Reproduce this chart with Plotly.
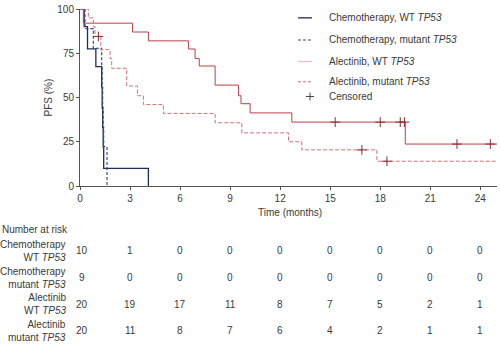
import plotly.graph_objects as go

# ---------------- data ----------------
chemo_wt_t = [0, 0.25, 0.45, 0.95, 1.30, 1.33, 1.36, 1.39, 1.42, 4.1]
chemo_wt_s = [100, 90, 77.5, 67.5, 56, 44, 33, 22, 10, 0]

chemo_mut_t = [0, 0.3, 0.8, 1.30, 1.33, 1.36, 1.39, 1.42, 1.62]
chemo_mut_s = [100, 88.9, 77.8, 66.7, 55.6, 44.4, 33.3, 22.2, 0]

alec_wt_t = [0, 0.2, 3.15, 4.1, 6.5, 6.9, 7.15, 8.1, 9.5, 9.65, 10.2, 12.7, 19.5, 25.3]
alec_wt_s = [100, 92, 87, 82, 77.4, 72, 67.8, 57, 51, 46.5, 41.3, 36.1, 23.7, 23.7]

alec_mut_t = [0, 0.5, 0.8, 0.9, 1.25, 1.8, 1.9, 2.8, 3.45, 3.8, 5.0, 8.1, 9.7, 12.5, 13.3, 17.8, 25.3]
alec_mut_s = [100, 95, 90, 84.5, 77, 72, 66.5, 56.5, 51, 46, 41, 35.7, 30, 25, 20.4, 14, 14]

cens_wt_t = [15.3, 18.0, 19.2, 19.45, 22.6, 24.6]
cens_wt_s = [36.1, 36.1, 36.1, 36.1, 23.7, 23.7]
cens_mut_t = [1.1, 16.9, 18.4]
cens_mut_s = [84.5, 20.4, 14]

risk_times = [0, 3, 6, 9, 12, 15, 18, 21, 24]
risk_labels = ["Chemotherapy<br>WT <i>TP53</i>", "Chemotherapy<br>mutant <i>TP53</i>",
               "Alectinib<br>WT <i>TP53</i>", "Alectinib<br>mutant <i>TP53</i>"]
risk_counts = [
    [10, 1, 0, 0, 0, 0, 0, 0, 0],
    [9, 0, 0, 0, 0, 0, 0, 0, 0],
    [20, 19, 17, 11, 8, 7, 5, 2, 1],
    [20, 11, 8, 7, 6, 4, 2, 1, 1],
]
legend_names = ["Chemotherapy, WT <i>TP53</i>", "Chemotherapy, mutant <i>TP53</i>",
                "Alectinib, WT <i>TP53</i>", "Alectinib, mutant <i>TP53</i>", "Censored"]

# ---------------- styles ----------------
C_CHEMO = "#1e2c5c"
C_CHEMO_M = "#3a4c80"
C_ALEC = "#b8404a"
C_ALEC_M = "#d07078"
FONT = "Liberation Sans, Arial, sans-serif"
TXT = "#3a3a3a"

W, H = 500, 348
L, R, T, B = 80, 3, 6, 162
PW, PH = W - L - R, H - T - B


def px_x(px):
    return (px - L) / PW


def px_y(py):
    return (H - B - py) / PH


def note(x, y, text, xanchor="center", xref="paper", **kw):
    d = dict(x=x, y=y, xref=xref, yref="paper", text=text, showarrow=False,
             xanchor=xanchor, yanchor="middle", font=dict(size=10, color=TXT))
    d.update(kw)
    return d


fig = go.Figure()
fig.add_trace(go.Scatter(x=chemo_wt_t, y=chemo_wt_s, mode="lines", line=dict(shape="hv", color=C_CHEMO, width=1.3), showlegend=False))
fig.add_trace(go.Scatter(x=chemo_mut_t, y=chemo_mut_s, mode="lines", line=dict(shape="hv", color=C_CHEMO_M, width=1.2, dash="3px,2px"), showlegend=False))
fig.add_trace(go.Scatter(x=alec_wt_t, y=alec_wt_s, mode="lines", line=dict(shape="hv", color=C_ALEC, width=1), showlegend=False))
fig.add_trace(go.Scatter(x=alec_mut_t, y=alec_mut_s, mode="lines", line=dict(shape="hv", color=C_ALEC_M, width=1, dash="4px,2px"), showlegend=False))
fig.add_trace(go.Scatter(x=cens_wt_t + cens_mut_t, y=cens_wt_s + cens_mut_s, mode="markers",
                         marker=dict(symbol="cross-thin", size=7, line=dict(color="#8e2a32", width=1)),
                         showlegend=False, cliponaxis=False))

ann = []
shapes = []
# axis titles
ann.append(note(px_x(48), px_y(96), "PFS (%)", textangle=-90))
ann.append(note(px_x(290), px_y(213), "Time (months)"))
# risk table
ann.append(note(px_x(0), px_y(230), "Number at risk", xanchor="left"))
row_y = [252, 279.5, 306, 333]
for lab, counts, ry in zip(risk_labels, risk_counts, row_y):
    ann.append(note(px_x(68), px_y(ry), lab, xanchor="right", align="right"))
    for t, c in zip(risk_times, counts):
        ann.append(note(t, px_y(ry), str(c), xref="x", xshift=2 if t == 0 else 0))

# legend (manual)
leg_y = [15, 37.5, 59.5, 80, 95]
styles = [(C_CHEMO, "solid", 1.3), (C_CHEMO_M, "3px,2px", 1.2), ("#e6b4b8", "solid", 1), (C_ALEC_M, "3px,2px", 1)]
for (col, dash, w), ly in zip(styles, leg_y[:4]):
    shapes.append(dict(type="line", xref="paper", yref="paper", x0=px_x(298), x1=px_x(312),
                       y0=px_y(ly), y1=px_y(ly), line=dict(color=col, dash=dash, width=w)))
# censored plus
shapes.append(dict(type="line", xref="paper", yref="paper", x0=px_x(306), x1=px_x(314),
                   y0=px_y(leg_y[4]), y1=px_y(leg_y[4]), line=dict(color="#444", width=1)))
shapes.append(dict(type="line", xref="paper", yref="paper", x0=px_x(310), x1=px_x(310),
                   y0=px_y(leg_y[4] - 4), y1=px_y(leg_y[4] + 4), line=dict(color="#444", width=1)))
for name, ly in zip(legend_names, leg_y):
    ann.append(note(px_x(327), px_y(ly), name, xanchor="left"))

fig.update_layout(
    width=W, height=H, margin=dict(l=L, r=R, t=T, b=B),
    paper_bgcolor="white", plot_bgcolor="white",
    font=dict(family=FONT, size=10, color=TXT),
    annotations=ann, shapes=shapes, showlegend=False,
)
fig.update_xaxes(range=[0, 25], tickvals=risk_times, ticks="outside", ticklen=3, tickcolor="#555",
                 showline=True, linecolor="#555", linewidth=1, showgrid=False, zeroline=False,
                 tickfont=dict(size=10, color=TXT))
fig.update_yaxes(range=[0, 100], tickvals=[0, 25, 50, 75, 100], ticks="outside", ticklen=3, tickcolor="#555",
                 showline=True, linecolor="#555", linewidth=1, showgrid=False, zeroline=False,
                 tickfont=dict(size=10, color=TXT))

fig.write_html("out.html")
